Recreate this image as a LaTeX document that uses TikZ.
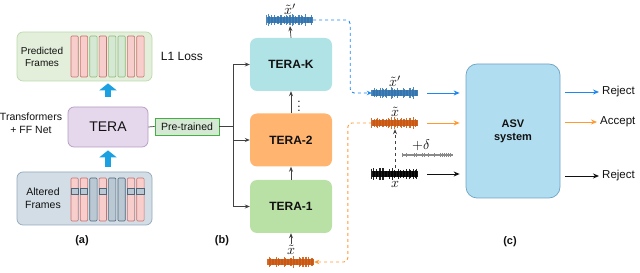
\documentclass[tikz,border=0pt]{standalone}
\usepackage{fontspec}
\setmainfont{Liberation Sans}
\usetikzlibrary{arrows.meta,positioning,calc}
\definecolor{ink}{HTML}{111111}
\definecolor{predFill}{HTML}{E3EFDB}
\definecolor{predLine}{HTML}{BCD9AC}
\definecolor{altFill}{HTML}{D3DDE6}
\definecolor{altLine}{HTML}{93A8BA}
\definecolor{teraFill}{HTML}{E6D8EC}
\definecolor{teraLine}{HTML}{B49CC4}
\definecolor{preFill}{HTML}{D5E8D4}
\definecolor{preLine}{HTML}{44B041}
\definecolor{kFill}{HTML}{B0E3E6}
\definecolor{twoFill}{HTML}{FFB570}
\definecolor{oneFill}{HTML}{B9E0A5}
\definecolor{asvFill}{HTML}{B1DDF0}
\definecolor{asvLine}{HTML}{6FA3C4}
\definecolor{barRed}{HTML}{F8CECC}
\definecolor{barRedLine}{HTML}{C9716C}
\definecolor{barGreen}{HTML}{D5E8D4}
\definecolor{barGreenLine}{HTML}{8DBA76}
\definecolor{barGray}{HTML}{BAC8D3}
\definecolor{barGrayLine}{HTML}{4E6678}
\definecolor{fatBlue}{HTML}{1BA1E2}
\definecolor{lineBlue}{HTML}{1E88F0}
\definecolor{lineOrange}{HTML}{FF9A33}
\definecolor{waveBlue}{HTML}{3273AE}
\definecolor{waveOrange}{HTML}{C9550E}
\definecolor{waveGray}{HTML}{8A8A8A}
\tikzset{
  base/.style={text=ink, font=\fontsize{10}{12}\selectfont},
  frames/.style={base, rounded corners=6pt, minimum width=135pt, align=center, line width=0.7pt},
  stage/.style={base, rounded corners=7pt, minimum width=82pt, minimum height=53pt, font=\bfseries\fontsize{12}{14}\selectfont},
  redbar/.style={draw=barRedLine, fill=barRed, line width=0.6pt, rounded corners=1pt},
  greenbar/.style={draw=barGreenLine, fill=barGreen, line width=0.6pt, rounded corners=1pt},
  graybar/.style={draw=barGrayLine, fill=barGray, line width=0.6pt, rounded corners=1pt},
  fatarrow/.style={draw=fatBlue, line width=6pt, -{Triangle[length=7pt,width=17pt]}},
  arrow/.style={-{Stealth[length=5pt,width=4pt]}, line width=0.7pt, draw=ink!80},
  wave/.style={minimum width=46pt, minimum height=12pt, inner sep=0pt},
  sym/.style={text=ink, inner sep=0.5pt, scale=1.4},
  verdict/.style={base, font=\fontsize{11.5}{13}\selectfont, anchor=west, inner sep=1pt},
  tag/.style={base, font=\bfseries\fontsize{11}{13}\selectfont},
}
\begin{document}
\begin{tikzpicture}[x=1pt,y=1pt]
  \useasboundingbox (0,0) rectangle (640,273);

  % (a) masked reconstruction
  \node[frames, draw=predLine, fill=predFill, minimum height=49pt] (pred) at (84.5,216.5) {};
  \node[base, align=center] (predtxt) at (42,216.5) {Predicted\\Frames};
  \node[base, font=\fontsize{12}{14}\selectfont] (loss) at (182,216.5) {L1 Loss};
  \node[frames, draw=altLine, fill=altFill, minimum height=53pt] (alt) at (84.5,74.5) {};
  \node[base, font=\fontsize{10.5}{13}\selectfont, align=center] (alttxt) at (43,74.5) {Altered\\Frames};
  \foreach \k/\c in {0/redbar,1/redbar,2/greenbar,3/redbar,4/greenbar,5/greenbar,6/redbar,7/redbar}{
    \draw[\c] ($(pred.west)+(54.3+\k*9.4,-20.5)$) rectangle +(7.3,41);
  }
  \foreach \k/\c in {0/redbar,1/redbar,2/graybar,3/redbar,4/graybar,5/graybar,6/redbar,7/redbar}{
    \draw[\c] ($(alt.west)+(54.3+\k*9.4,-22.5)$) rectangle +(7.3,43);
  }
  \foreach \k in {0,1,3,6,7}{
    \draw[graybar, rounded corners=0pt] ($(alt.west)+(54.3+\k*9.4,4.5)$) rectangle +(7.3,6);
  }
  \node[base, draw=teraLine, fill=teraFill, rounded corners=6pt, minimum width=80pt, minimum height=40pt, line width=0.7pt, font=\fontsize{14}{16}\selectfont] (tera) at (108,146) {TERA};
  \node[base, align=center, font=\fontsize{10.5}{12.5}\selectfont] (tftxt) at (31,149.5) {Transformers\\+ FF Net};
  \draw[fatarrow, shorten <=10pt, shorten >=2pt] (tera.north) -- (pred.south -| tera.north);
  \draw[fatarrow, shorten <=5pt, shorten >=3pt] (alt.north -| tera.south) -- (tera.south);
  \node[base, draw=preLine, fill=preFill, line width=0.8pt, minimum width=64pt, minimum height=17pt, inner sep=1pt, font=\fontsize{10.5}{12}\selectfont] (pre) at (187,146.5) {Pre-trained};
  \draw[line width=0.7pt, draw=ink!80] (tera.east) -- (pre.west);
  \node[tag] (taga) at (82,32) {(a)};

  % (b) cascaded TERA models
  \node[stage, fill=oneFill] (one) at (291,66.5) {TERA-1};
  \node[stage, fill=twoFill] (two) at (291,133) {TERA-2};
  \node[stage, fill=kFill] (kk) at (291,208.5) {TERA-K};
  \coordinate (split) at (233,146.5);
  \draw[line width=0.7pt, draw=ink!80] (pre.east) -- (split);
  \draw[arrow] (split) |- (kk.west);
  \draw[arrow] (split) |- (two.west);
  \draw[arrow] (split) |- (one.west);
  \draw[arrow] (one.north) -- (two.south);
  \draw[arrow] (two.north) -- (kk.south);
  \node[sym, scale=0.85] (dots) at (299,170) {$\vdots$};
  \node[wave] (kout) at (290,253) {};
  \node[sym, above=-2pt of kout] (koutlbl) {$\tilde{x}'$};
  \draw[arrow] (kk.north) -- (kout.south);
  \node[wave] (advin) at (291,11) {};
  \node[sym, above=0pt of advin] (advinlbl) {$\tilde{x}$};
  \draw[arrow] (advinlbl.north) -- (one.south);
  \node[tag] (tagb) at (222,32) {(b)};

  % (c) attacking the ASV system
  \node[wave] (kin) at (395,180) {};
  \node[sym, above=-1pt of kin] (kinlbl) {$\tilde{x}'$};
  \node[wave] (adv) at (395,150) {};
  \node[sym, above=-1pt of adv] (advlbl) {$\tilde{x}$};
  \node[wave] (clean) at (395,99) {};
  \node[sym, below=0pt of clean] (cleanlbl) {$x$};
  \node[wave, minimum width=50pt, minimum height=4pt] (noise) at (427,118) {};
  \node[sym] (deltalbl) at (421,128) {$+\delta$};
  \draw[arrow, dashed] (clean.north) -- (adv.south);
  \draw[-{Stealth[length=5pt,width=4.5pt]}, line width=0.9pt, draw=lineBlue, dashed, rounded corners=4pt] (kout.east) -- ++(37,0) |- (kin.west);
  \draw[-{Stealth[length=5pt,width=4.5pt]}, line width=0.9pt, draw=lineOrange, dashed, rounded corners=4pt] (adv.west) -- ++(-24,0) |- (advin.east);
  \node[base, draw=asvLine, fill=asvFill, line width=0.7pt, rounded corners=11pt, minimum width=94pt, minimum height=134pt, align=center, font=\bfseries\fontsize{11}{13}\selectfont] (asv) at (513,142) {ASV\\system};
  \node[verdict] (out1) at (601,181) {Reject};
  \node[verdict] (out2) at (599,151) {Accept};
  \node[verdict] (out3) at (601,97) {Reject};
  \draw[-{Stealth[length=6pt,width=5pt]}, line width=0.9pt, draw=lineBlue, shorten <=9pt, shorten >=6pt] (kin.east) -- (kin.east -| asv.west);
  \draw[-{Stealth[length=6pt,width=5pt]}, line width=0.9pt, draw=lineOrange, shorten <=9pt, shorten >=6pt] (adv.east) -- (adv.east -| asv.west);
  \draw[-{Stealth[length=6pt,width=5pt]}, line width=0.9pt, draw=ink, shorten <=9pt, shorten >=6pt] (clean.east) -- (clean.east -| asv.west);
  \draw[-{Stealth[length=6pt,width=5pt]}, line width=0.9pt, draw=lineBlue, shorten <=5pt, shorten >=2pt] (asv.east |- out1) -- (out1.west);
  \draw[-{Stealth[length=6pt,width=5pt]}, line width=0.9pt, draw=lineOrange, shorten <=5pt, shorten >=2pt] (asv.east |- out2) -- (out2.west);
  \draw[-{Stealth[length=6pt,width=5pt]}, line width=0.9pt, draw=ink, shorten <=5pt, shorten >=2pt] (asv.east |- out3) -- (out3.west);
  \node[tag] (tagc) at (510,31) {(c)};

  % waveforms
  \pgfmathsetseed{11}
  \foreach \w/\c in {kout/waveBlue,advin/waveOrange,kin/waveBlue,adv/waveOrange,clean/black}{
    \draw[\c, line width=5.5pt, opacity=0.9] (\w.west) -- (\w.east);
    \foreach \i in {0,1.5,...,45}{
      \pgfmathsetmacro{\h}{2.5+3.5*rnd}
      \draw[\c, line width=0.8pt, opacity=0.85] ($(\w.west)+(\i,\h)$) -- ($(\w.west)+(\i,-\h)$);
    }
  }
  \draw[waveGray, line width=1.6pt] (noise.west) -- (noise.east);
  \foreach \i in {0,2,...,50}{
    \pgfmathsetmacro{\h}{0.8+1.2*rnd}
    \draw[waveGray, line width=0.6pt] ($(noise.west)+(\i,\h)$) -- ($(noise.west)+(\i,-\h)$);
  }
\end{tikzpicture}
\end{document}
